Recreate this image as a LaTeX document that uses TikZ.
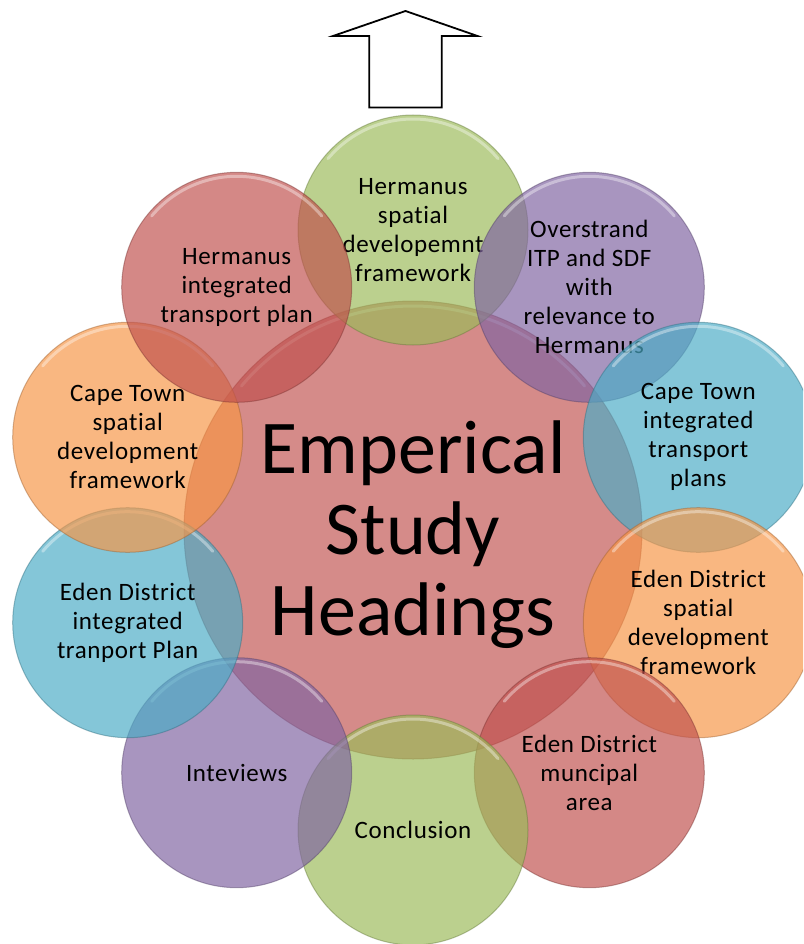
\documentclass[tikz,border=0pt]{standalone}
\usepackage{fontspec}
\setmainfont{Carlito}[Ligatures=NoCommon]
\definecolor{cgrn}{HTML}{9BBB59}
\definecolor{cpur}{HTML}{8064A2}
\definecolor{ccya}{HTML}{4BACC6}
\definecolor{corg}{HTML}{F79646}
\definecolor{cred}{HTML}{C0504D}
\tikzset{
  bub/.style={circle, minimum size=230pt, inner sep=0pt, fill=#1, fill opacity=0.68,
    draw=#1!65!black, draw opacity=0.45, line width=1pt, text opacity=1, text=black,
    align=center, font=\fontsize{25}{29}\selectfont\addfontfeatures{LetterSpace=2.5}},
  hub/.style={circle, minimum size=458pt, inner sep=0pt, fill=cred, fill opacity=0.66,
    draw=cred!65!black, draw opacity=0.45, line width=1pt, text opacity=1, text=black,
    align=center, font=\fontsize{76}{81}\selectfont},
  shine/.style={draw=white, draw opacity=0.38, line width=3pt, line cap=round},
  blockarrow/.style={draw=black, line width=1.8pt, fill=white, line join=miter}
}
\newcommand{\glint}[2]{\draw[shine] ([shift={(140:#2)}]#1.center) arc[start angle=140,end angle=40,radius=#2];}
\begin{document}
\begin{tikzpicture}[x=1pt,y=-1pt]
\useasboundingbox (0,0) rectangle (803,944);
\clip (0,0) rectangle (803,944);
\fill[white] (0,0) rectangle (803,944);
\coordinate (tip) at (405.5,11);
\draw[blockarrow] (tip) -- (477.5,36) -- (441.7,36) -- (441.7,107.5) -- (369.3,107.5) -- (369.3,36) -- (333,36) -- cycle;
\node[hub] (hub) at (413,530) {};
\glint{hub}{224pt}
\node[bub=cgrn] (c0) at (413,230) {Hermanus\\spatial\\developemnt\\framework};
\glint{c0}{111pt}
\node[bub=cpur] (c1) at (589.3,287.3) {Overstrand\\ITP and SDF\\with\\relevance to\\Hermanus};
\glint{c1}{111pt}
\node[bub=ccya] (c2) at (698.3,437.3) {Cape Town\\integrated\\transport\\plans};
\glint{c2}{111pt}
\node[bub=corg] (c3) at (698.3,622.7) {Eden District\\spatial\\development\\framework};
\glint{c3}{111pt}
\node[bub=cred] (c4) at (589.3,772.7) {Eden District\\muncipal\\area};
\glint{c4}{111pt}
\node[bub=cgrn] (c5) at (413,830) {Conclusion};
\glint{c5}{111pt}
\node[bub=cpur] (c6) at (236.7,772.7) {Inteviews};
\glint{c6}{111pt}
\node[bub=ccya] (c7) at (127.7,622.7) {Eden District\\integrated\\tranport Plan};
\glint{c7}{111pt}
\node[bub=corg] (c8) at (127.7,437.3) {Cape Town\\spatial\\development\\framework};
\glint{c8}{111pt}
\node[bub=cred] (c9) at (236.7,287.3) {Hermanus\\integrated\\transport plan};
\glint{c9}{111pt}
\node[font=\fontsize{76}{81}\selectfont, align=center, text=black] (title) at (413,535) {Emperical\\Study\\Headings};
\end{tikzpicture}
\end{document}
